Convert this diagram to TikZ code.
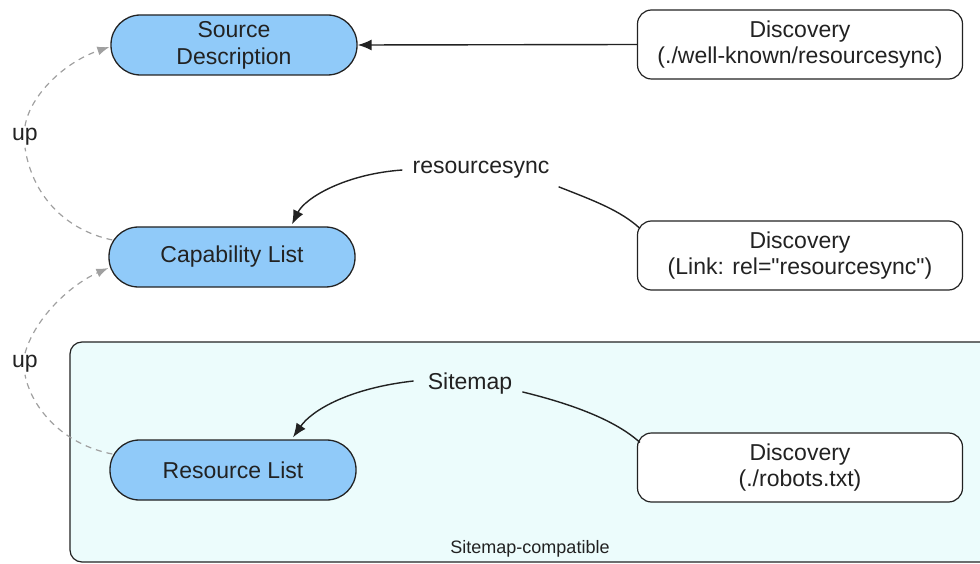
\documentclass[tikz,border=0pt]{standalone}
\usepackage{fontspec}
\setmainfont{Liberation Sans}[Ligatures=TeXOff]
\usetikzlibrary{arrows.meta,calc}
\definecolor{pillblue}{RGB}{144,202,249}
\definecolor{boxcyan}{RGB}{236,252,252}
\definecolor{ink}{RGB}{34,34,34}
\definecolor{dashgray}{RGB}{160,160,160}
\begin{document}
\begin{tikzpicture}[x=1pt,y=-1pt,
  pill/.style={draw=ink, line width=1.3pt, fill=pillblue, rounded corners=29.5pt,
    minimum width=246pt, minimum height=60pt, align=center, inner sep=0pt,
    font=\fontsize{23}{27}\selectfont, text=ink},
  disc/.style={draw=ink, line width=1.2pt, fill=white, rounded corners=14pt,
    minimum width=325pt, minimum height=69pt, align=center, inner sep=0pt,
    font=\fontsize{23}{25.5}\selectfont, text=ink},
  group/.style={draw=ink, line width=1.2pt, fill=boxcyan, rounded corners=12pt,
    minimum width=925pt, minimum height=220pt, inner sep=0pt},
  lbl/.style={font=\fontsize{23}{27}\selectfont, text=ink, inner sep=6pt},
  uplbl/.style={font=\fontsize{23}{27}\selectfont, text=ink, inner sep=2pt},
  small/.style={font=\fontsize{18}{21}\selectfont, text=ink, inner sep=0pt},
  link/.style={draw=ink, line width=1.4pt},
  linkarrow/.style={link, -{Latex[length=14pt,width=11pt]}},
  updash/.style={draw=dashgray, line width=1.2pt, dash pattern=on 6pt off 5pt},
  uparrow/.style={updash, -{Latex[length=12pt,width=9pt]}}
]
\useasboundingbox (0,0) rectangle (980,564);

% group box (extends beyond right edge)
\node[group] (grp) at (532.5,452) {};
\node[small] (grplbl) at (530,549) {Sitemap-compatible};

% main nodes
\node[pill] (src) at (234,45) {Source\\Description};
\node[pill] (cap) at (232,257) {Capability List};
\node[pill] (res) at (233,470) {Resource List};

\node[disc] (d1) at (800,44.5) {Discovery\\(./well-known/resourcesync)};
\node[disc] (d2) at (800,255.5) {Discovery\\(Link: rel="resourcesync")};
\node[disc] (d3) at (800,467.5) {Discovery\\(./robots.txt)};

% labels
\node[lbl] (rs) at (481,170) {resourcesync};
\node[lbl] (sm) at (470,384) {Sitemap};
\node[uplbl] (up1) at (25,137) {up};
\node[uplbl] (up2) at (25,364) {up};

% discovery arrows
\draw[linkarrow] (d1.west) -- (src.east);

\draw[linkarrow] ($(rs.west)+(-4,0)$) .. controls (345,174) and (305,198) .. ($(cap.north)+(60,-2)$);
\draw[link] ($(rs.south east)+(3,2)$) .. controls (592,200) and (620,210) .. ($(d2.north west)+(3,8)$);

\draw[linkarrow] ($(sm.west)+(-8,-3)$) .. controls (350,388) and (312,410) .. ($(res.north)+(60,-2)$);
\draw[link] ($(sm.south east)+(4,-9)$) .. controls (572,404) and (615,420) .. ($(d3.north west)+(3,10)$);

% up arrows
\draw[updash] ($(cap.west)+(4,-17)$) .. controls (65,230) and (32,195) .. (up1.south);
\draw[uparrow] (up1.north) .. controls (30,95) and (65,62) .. ($(src.west)+(-1,2)$);

\draw[updash] ($(res.west)+(3,-16)$) .. controls (65,445) and (32,410) .. (up2.south);
\draw[uparrow] (up2.north) .. controls (35,318) and (70,285) .. ($(cap.west)+(0,11)$);
\end{tikzpicture}
\end{document}
